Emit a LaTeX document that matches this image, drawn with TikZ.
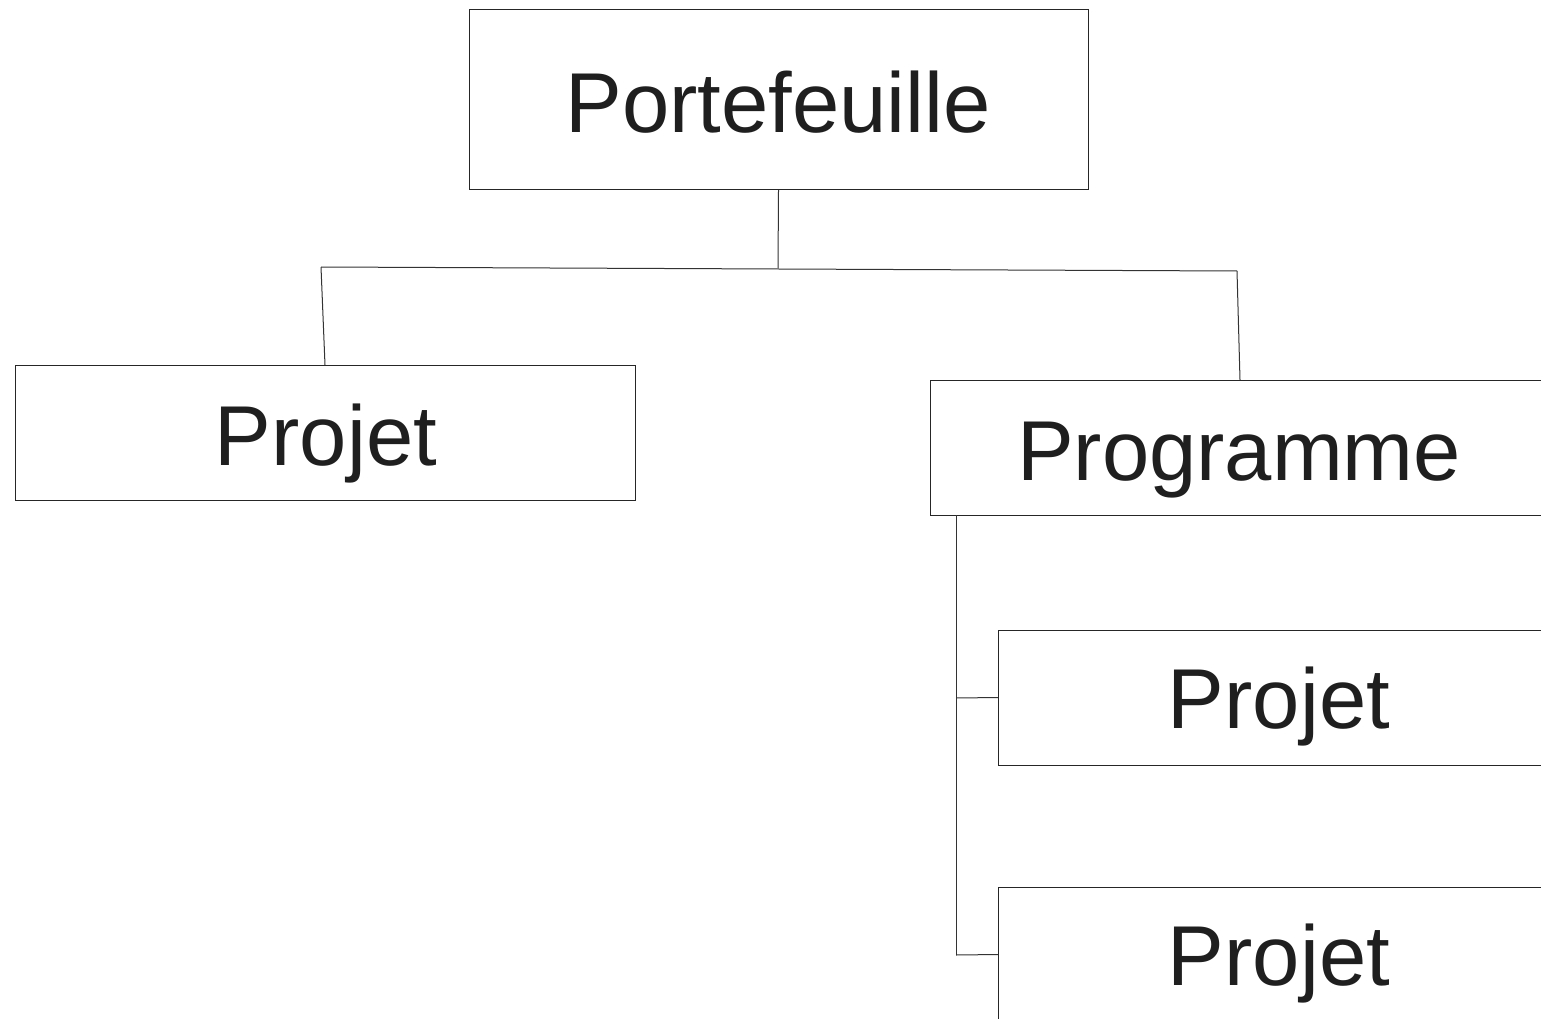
\documentclass[tikz,border=0pt]{standalone}
\usepackage{fontspec}
\setmainfont{Liberation Sans}
\usetikzlibrary{calc}
\begin{document}
\begin{tikzpicture}[x=1pt,y=-1pt,
  box/.style={draw=black!85,line width=1pt,rectangle,inner sep=0pt,outer sep=0pt},
  lbl/.style={font=\fontsize{85}{100}\selectfont,text=black!88,anchor=base,inner sep=0pt},
  link/.style={draw=black!80,line width=1pt}]
\useasboundingbox (0,0) rectangle (1541,1019);
\clip (0,0) rectangle (1541,1019);
\node[box,minimum width=619pt,minimum height=180pt] (port) at (778.5,100) {};
\node[box,minimum width=620pt,minimum height=135pt] (proj1) at (325,432.5) {};
\node[box,minimum width=630pt,minimum height=135pt] (prog) at (1245,447.5) {};
\node[box,minimum width=562pt,minimum height=135pt] (proj2) at (1279,697.5) {};
\node[box,minimum width=562pt,minimum height=135pt] (proj3) at (1279,954.5) {};
\node[lbl] (tport) at (778,133) {Portefeuille};
\node[lbl] (tproj1) at (326,465) {Projet};
\node[lbl] (tprog) at (1239,480) {Programme};
\node[lbl] (tproj2) at (1279,728) {Projet};
\node[lbl] (tproj3) at (1279,985) {Projet};
\coordinate (j) at (778,268);
\coordinate (jl) at (321,267);
\coordinate (jr) at (1237,271);
\coordinate (t1) at (956,698);
\coordinate (t2) at (956,955);
\draw[link] (port.south) -- (j);
\draw[link] (jl) -- (jr);
\draw[link] (jl) -- (proj1.north);
\draw[link] (jr) -- ($(prog.north west)+(310,0)$);
\draw[link] ($(prog.south west)+(26,0)$) -- (t2);
\draw[link] (t1) -- (proj2.west);
\draw[link] (t2) -- (proj3.west);
\end{tikzpicture}
\end{document}
